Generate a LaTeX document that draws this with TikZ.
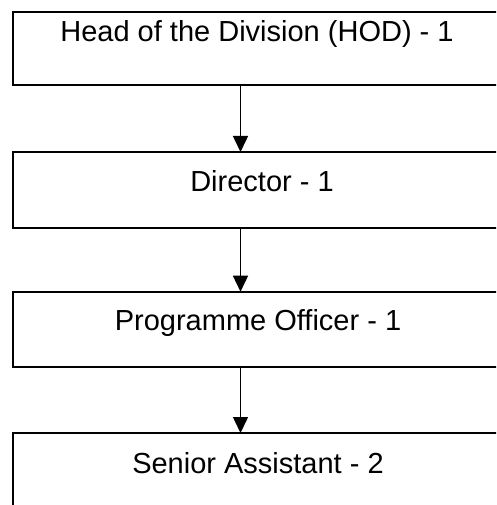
\documentclass[tikz,border=0pt]{standalone}
\usepackage{fontspec}
\setmainfont{Liberation Sans}
\usetikzlibrary{arrows.meta}
\begin{document}
\begin{tikzpicture}[x=1pt,y=-1pt,
  box/.style={draw=black, line width=2pt, anchor=north west, minimum width=490pt, inner sep=0pt, outer sep=0pt},
  lbl/.style={anchor=base, inner sep=0pt, font=\fontsize{29}{35}\selectfont},
  conn/.style={draw=black, line width=1.5pt, -{Triangle[length=16pt,width=15pt]}}]
\useasboundingbox (0,0) rectangle (496,505);
\clip (0,0) rectangle (496,505);
\node[box, minimum height=73.3pt] (b1) at (13,11.7) {};
\node[box, minimum height=76pt] (b2) at (13,152) {};
\node[box, minimum height=75.3pt] (b3) at (13,291.7) {};
\node[box, minimum height=100pt] (b4) at (13,433) {};
\node[lbl] (t1) at (257,41.3) {Head of the Division (HOD) - 1};
\node[lbl] (t2) at (262,191) {Director - 1};
\node[lbl] (t3) at (258,330) {Programme Officer - 1};
\node[lbl] (t4) at (258,473) {Senior Assistant - 2};
\coordinate (ax) at (240.5,0);
\draw[conn] (b1.south -| ax) -- (b2.north -| ax);
\draw[conn] (b2.south -| ax) -- (b3.north -| ax);
\draw[conn] (b3.south -| ax) -- (b4.north -| ax);
\end{tikzpicture}
\end{document}
